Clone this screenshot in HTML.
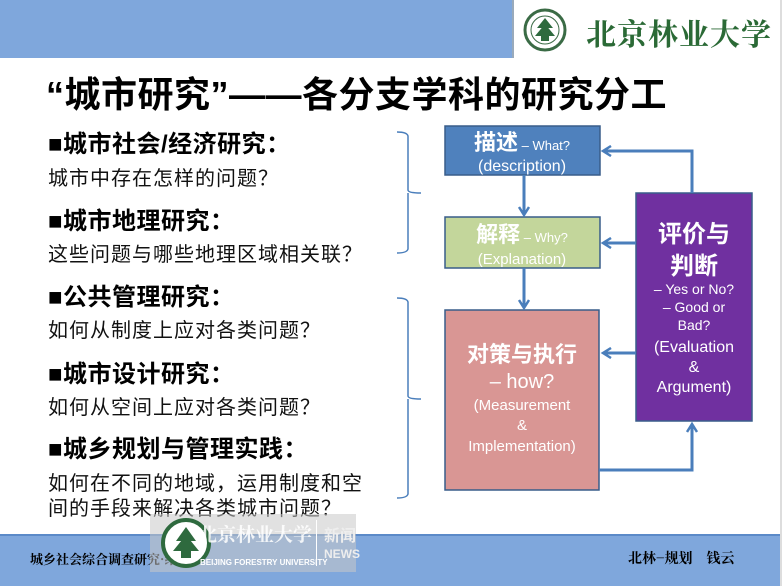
<!DOCTYPE html>
<html><head><meta charset="utf-8"><style>
body{margin:0;width:782px;height:586px;overflow:hidden;background:#fff;font-family:"Liberation Sans","Noto Sans CJK SC",sans-serif;position:relative}
.a{position:absolute;white-space:nowrap}
.h{font-weight:bold;font-size:24px;color:#000;left:48px;letter-spacing:0.5px}
.s{font-size:20px;color:#111;left:48px;letter-spacing:1px}
</style></head><body>
<div class="a" style="left:0;top:0;width:512px;height:58px;background:#7fa7dc"></div>
<div class="a" style="left:512px;top:0;width:2px;height:58px;background:#9ab"></div>
<div class="a" style="left:780px;top:0;width:2px;height:586px;background:#ddd"></div>
<svg class="a" style="left:520px;top:6px" width="50" height="48"><circle cx="25" cy="24" r="20" fill="none" stroke="#3a6b45" stroke-width="3"/><circle cx="25" cy="24" r="14" fill="none" stroke="#3a6b45" stroke-width="1"/><path d="M25 12 L17 22 H33 Z M25 18 L15 30 H35 Z M21 30 h8 v5 h-8z" fill="#2e6a3e"/></svg>
<div class="a" style="left:586px;top:10px;font-size:30px;font-weight:bold;color:#2b6a36;font-family:'Noto Serif CJK SC',serif;letter-spacing:1px">北京林业大学</div>
<div class="a" style="left:46px;top:66px;font-size:36px;font-weight:bold;letter-spacing:0.5px">“城市研究”——各分支学科的研究分工</div>

<div class="a h" style="top:124px">■城市社会/经济研究：</div>
<div class="a s" style="top:162px">城市中存在怎样的问题？</div>
<div class="a h" style="top:201px">■城市地理研究：</div>
<div class="a s" style="top:238px">这些问题与哪些地理区域相关联？</div>
<div class="a h" style="top:277px">■公共管理研究：</div>
<div class="a s" style="top:314px">如何从制度上应对各类问题？</div>
<div class="a h" style="top:354px">■城市设计研究：</div>
<div class="a s" style="top:391px">如何从空间上应对各类问题？</div>
<div class="a h" style="top:429px">■城乡规划与管理实践：</div>
<div class="a s" style="top:467px">如何在不同的地域，运用制度和空</div>
<div class="a s" style="top:492px">间的手段来解决各类城市问题？</div>

<svg class="a" style="left:0;top:0" width="782" height="586">
<defs><marker id="m" markerWidth="12" markerHeight="12" refX="9" refY="6" orient="auto" markerUnits="userSpaceOnUse"><path d="M1 1 L9 6 L1 11" fill="none" stroke="#4a7ebb" stroke-width="2.5"/></marker></defs>
<g fill="none" stroke="#4a7ebb" stroke-width="1.5">
<path d="M397 132 Q407 132 408 136 V190 Q408 193 421 193 M408 193 Q408 196 408 199 V249 Q407 253 397 253"/>
<path d="M397 298 Q407 298 408 302 V396 Q408 399 421 399 M408 399 V494 Q407 498 397 498"/>
</g>
<rect x="445" y="126" width="155" height="49" fill="#4f81bd" stroke="#385d8a" stroke-width="1.5"/>
<rect x="445" y="217" width="155" height="51" fill="#c3d69b" stroke="#385d8a" stroke-width="1.5"/>
<rect x="445" y="310" width="154" height="180" fill="#d99694" stroke="#385d8a" stroke-width="1.5"/>
<rect x="636" y="193" width="116" height="228" fill="#7030a0" stroke="#385d8a" stroke-width="1.5"/>
<g fill="none" stroke="#4a7ebb" stroke-width="3" marker-end="url(#m)">
<path d="M524 175 V215"/>
<path d="M524 268 V308"/>
<path d="M692 193 V151 H603"/>
<path d="M636 243 H603"/>
<path d="M636 353 H603"/>
<path d="M599 470 H692 V424"/>
</g>
<g fill="#fff" text-anchor="middle" font-family="Liberation Sans,Noto Sans CJK SC,sans-serif">
<text x="522" y="150"><tspan font-size="22" font-weight="bold">描述</tspan><tspan font-size="13"> – What?</tspan></text>
<text x="522" y="171" font-size="16">(description)</text>
<text x="522" y="242"><tspan font-size="22" font-weight="bold">解释</tspan><tspan font-size="13"> – Why?</tspan></text>
<text x="522" y="264" font-size="15">(Explanation)</text>
<text x="522" y="362" font-size="22" font-weight="bold">对策与执行</text>
<text x="522" y="388" font-size="20">– how?</text>
<text x="522" y="410" font-size="15">(Measurement</text>
<text x="522" y="430" font-size="15">&amp;</text>
<text x="522" y="451" font-size="15">Implementation)</text>
<text x="694" y="242" font-size="24" font-weight="bold">评价与</text>
<text x="694" y="274" font-size="24" font-weight="bold">判断</text>
<text x="694" y="294" font-size="14">– Yes or No?</text>
<text x="694" y="312" font-size="14">– Good or</text>
<text x="694" y="330" font-size="14">Bad?</text>
<text x="694" y="352" font-size="16">(Evaluation</text>
<text x="694" y="372" font-size="16">&amp;</text>
<text x="694" y="392" font-size="16">Argument)</text>
</g>
</svg>

<div class="a" style="left:0;top:534px;width:780px;height:50px;background:#7fa7dc;border-top:2px solid #5b8ac8"></div>
<div class="a" style="left:30px;top:549px;font-size:13px;font-weight:bold;font-family:'Noto Serif CJK SC',serif">城乡社会综合调查研究·绪论</div>
<div class="a" style="left:628px;top:548px;font-size:14px;font-weight:bold;font-family:'Noto Serif CJK SC',serif">北林−规划　钱云</div>
<div class="a" style="left:150px;top:514px;width:206px;height:58px;background:rgba(200,200,200,0.55)"></div>
<svg class="a" style="left:160px;top:517px" width="52" height="52"><circle cx="26" cy="26" r="23" fill="#fff" stroke="#2e6a3e" stroke-width="4"/><path d="M26 10 L16 24 H36 Z M26 18 L13 34 H39 Z M21 34 h10 v7 h-10z" fill="#2e6a3e"/></svg>
<div class="a" style="left:198px;top:520px;font-size:19px;font-weight:bold;color:rgba(255,255,255,0.85);font-family:'Noto Serif CJK SC',serif;letter-spacing:0px">北京林业大学</div>
<div class="a" style="left:200px;top:558px;font-size:8px;color:#fff;font-weight:bold">BEIJING FORESTRY UNIVERSITY</div>
<div class="a" style="left:316px;top:520px;width:1px;height:46px;background:#fff"></div>
<div class="a" style="left:324px;top:522px;font-size:16px;font-weight:bold;color:#eee">新闻</div>
<div class="a" style="left:324px;top:547px;font-size:12px;font-weight:bold;color:#eee">NEWS</div>
</body></html>
